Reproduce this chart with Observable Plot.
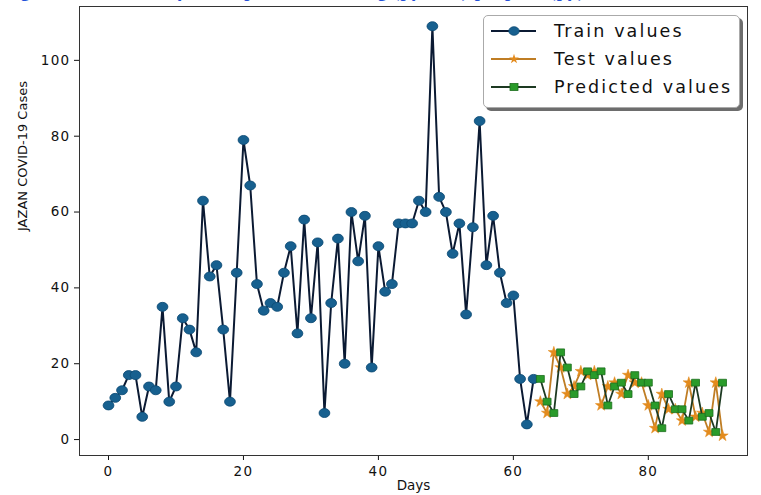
<!DOCTYPE html>
<html>
<head>
<meta charset="utf-8">
<script src="https://cdn.jsdelivr.net/npm/d3@7"></script>
<script src="https://cdn.jsdelivr.net/npm/@observablehq/plot@0.6"></script>
<style>
html, body { margin: 0; padding: 0; background: #fff; overflow: hidden; }
#wrap { position: relative; width: 761px; height: 495px; overflow: hidden; }
#cap { position: absolute; left: 2px; top: -19px; font: bold 18px "Liberation Serif", serif; color: #2450d8; white-space: nowrap; letter-spacing: 1.2px; }
#legend { position: absolute; left: 483px; top: 15px; width: 255px; height: 91px; border: 1px solid #aaa; border-radius: 5px; background: #fff; box-shadow: 3px 3px 0 #6d6d6d; font-family: "DejaVu Sans", sans-serif; font-size: 17.5px; letter-spacing: 2.1px; color: #111; }
.row { position: absolute; left: 6px; height: 28px; display: flex; align-items: center; }
.row svg { margin-right: 17px; }
svg [aria-label="y-axis tick label"] text, svg [aria-label="x-axis tick label"] text { letter-spacing: 1.3px; }
</style>
</head>
<body>
<div id="wrap">
  <div id="cap">Figure 9. Jazan daily cases prediction using (python) prophet (py)</div>
  <div id="chart"></div>
  <div id="legend"></div>
</div>
<script>
// ---- data ----
const trainDays = d3.range(0, 64);
const trainValues = [9, 11, 13, 17, 17, 6, 14, 13, 35, 10, 14, 32, 29, 23, 63, 43, 46, 29, 10, 44,
  79, 67, 41, 34, 36, 35, 44, 51, 28, 58, 32, 52, 7, 36, 53, 20, 60, 47, 59, 19,
  51, 39, 41, 57, 57, 57, 63, 60, 109, 64, 60, 49, 57, 33, 56, 84, 46, 59, 44, 36,
  38, 16, 4, 16];
const testDays = d3.range(64, 92);
const testValues = [10, 7, 23, 19, 12, 14, 18, 17, 18, 9, 14, 15, 12, 17, 15, 15, 9, 3, 12, 8,
  8, 5, 15, 6, 7, 2, 15, 1];
const predDays = d3.range(64, 92);
const predValues = [16, 10, 7, 23, 19, 12, 14, 18, 17, 18, 9, 14, 15, 12, 17, 15, 15, 9, 3, 12,
  8, 8, 5, 15, 6, 7, 2, 15];
const xTicks = [0, 20, 40, 60, 80];
const yTicks = [0, 20, 40, 60, 80, 100];
const seriesNames = ["Train values", "Test values", "Predicted values"];
const xLabel = "Days";
const yLabel = "JAZAN COVID-19 Cases";

const train = trainDays.map((d, i) => ({day: d, value: trainValues[i]}));
const test = testDays.map((d, i) => ({day: d, value: testValues[i]}));
const pred = predDays.map((d, i) => ({day: d, value: predValues[i]}));

// horizontally stretched markers (the reference image is stretched)
const ellipse = {
  draw(ctx, size) {
    const r = Math.sqrt(size / Math.PI), rx = r * 1.2, ry = r, k = 0.5523;
    ctx.moveTo(rx, 0);
    ctx.bezierCurveTo(rx, k * ry, k * rx, ry, 0, ry);
    ctx.bezierCurveTo(-k * rx, ry, -rx, k * ry, -rx, 0);
    ctx.bezierCurveTo(-rx, -k * ry, -k * rx, -ry, 0, -ry);
    ctx.bezierCurveTo(k * rx, -ry, rx, -k * ry, rx, 0);
    ctx.closePath();
  }
};
const rect = {
  draw(ctx, size) {
    const r = Math.sqrt(size / Math.PI), hw = r * 1.1, hh = r * 0.95;
    ctx.moveTo(-hw, -hh); ctx.lineTo(hw, -hh); ctx.lineTo(hw, hh); ctx.lineTo(-hw, hh); ctx.closePath();
  }
};

const colors = {
  trainLine: "#0b1a33", trainDot: "#17608f", trainEdge: "#0e4a73",
  testLine: "#bf7d24", testDot: "#e38b1d",
  predLine: "#1d3a22", predDot: "#2a9b2a", predEdge: "#1c6e1d"
};

const chart = Plot.plot({
  width: 761, height: 495,
  marginLeft: 79, marginRight: 14, marginTop: 6, marginBottom: 40,
  style: {fontFamily: "DejaVu Sans, sans-serif", fontSize: "13px", color: "#111", background: "transparent"},
  x: {domain: [-4.3, 94.7]},
  y: {domain: [-4.2, 114.2]},
  marks: [
    Plot.axisX({ticks: xTicks, tickSize: 5, tickPadding: 6, label: null, fontSize: 13.5}),
    Plot.axisY({ticks: yTicks, tickSize: 5, tickPadding: 4, label: null, fontSize: 13.5}),
    Plot.line(train, {x: "day", y: "value", stroke: colors.trainLine, strokeWidth: 2}),
    Plot.dot(train, {x: "day", y: "value", symbol: ellipse, r: 4.5, fill: colors.trainDot, stroke: colors.trainEdge, strokeWidth: 0.8}),
    Plot.line(test, {x: "day", y: "value", stroke: colors.testLine, strokeWidth: 1.8}),
    Plot.dot(test, {x: "day", y: "value", symbol: "star", r: 3.6, fill: colors.testDot, stroke: colors.testDot, strokeWidth: 0.5}),
    Plot.line(pred, {x: "day", y: "value", stroke: colors.predLine, strokeWidth: 1.8}),
    Plot.dot(pred, {x: "day", y: "value", symbol: rect, r: 3.6, fill: colors.predDot, stroke: colors.predEdge, strokeWidth: 0.8}),
    Plot.frame({stroke: "#333", strokeWidth: 1}),
    Plot.text([yLabel], {frameAnchor: "left", dx: -57, rotate: -90, fontSize: 13, fill: "#111"}),
    Plot.text([xLabel], {frameAnchor: "bottom", dy: 34, fontSize: 13.5, fill: "#111"})
  ]
});
document.getElementById("chart").appendChild(chart);

// legend
const legend = document.getElementById("legend");
const legendSpecs = [
  {line: colors.trainLine, fill: colors.trainDot, shape: "circle"},
  {line: colors.testLine, fill: colors.testDot, shape: "star"},
  {line: colors.predLine, fill: colors.predDot, shape: "square"}
];
seriesNames.forEach((name, i) => {
  const s = legendSpecs[i];
  const row = document.createElement("div");
  row.className = "row";
  row.style.top = (1 + i * 28) + "px";
  let marker;
  if (s.shape === "circle") marker = `<ellipse cx="24" cy="10" rx="5.2" ry="4.3" fill="${s.fill}" stroke="${colors.trainEdge}" stroke-width="0.8"/>`;
  else if (s.shape === "star") marker = `<path transform="translate(24,10)" d="${d3.symbol(d3.symbolStar, 30)()}" fill="${s.fill}"/>`;
  else marker = `<rect x="20" y="6.5" width="8" height="7" fill="${s.fill}" stroke="${colors.predEdge}" stroke-width="0.8"/>`;
  row.innerHTML = `<svg width="47" height="20"><line x1="1" y1="10" x2="46" y2="10" stroke="${s.line}" stroke-width="2"/>${marker}</svg><span>${name}</span>`;
  legend.appendChild(row);
});
</script>
</body>
</html>
